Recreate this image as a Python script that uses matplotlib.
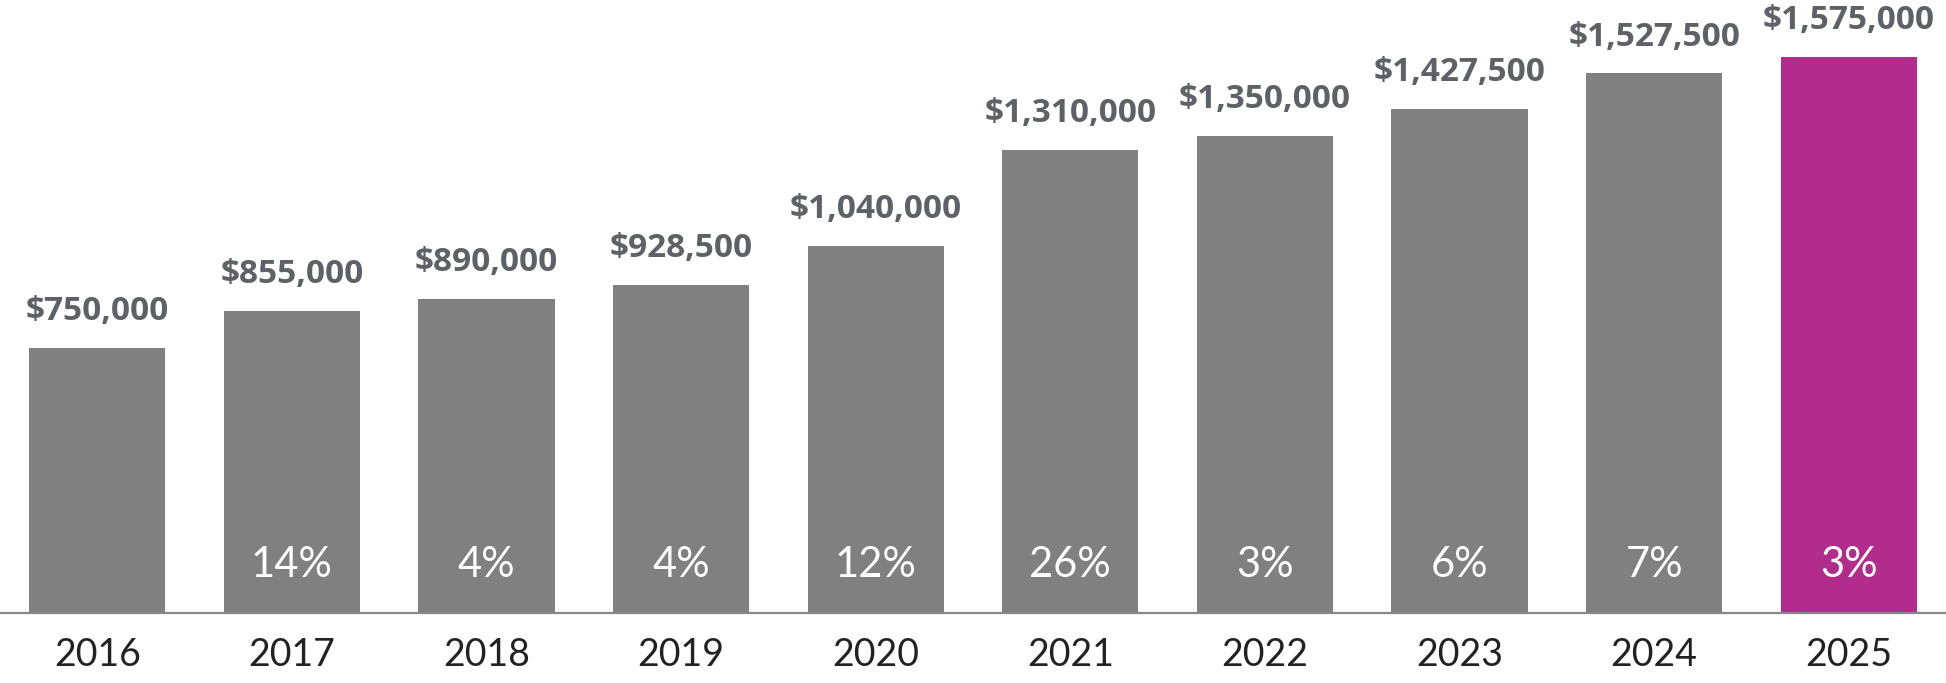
import matplotlib.pyplot as plt

years = ["2016", "2017", "2018", "2019", "2020", "2021", "2022", "2023", "2024", "2025"]
prices = [750000, 855000, 890000, 928500, 1040000, 1310000, 1350000, 1427500, 1527500, 1575000]
changes = ["", "14%", "4%", "4%", "12%", "26%", "3%", "6%", "7%", "3%"]

GREY = "#808080"
PINK = "#b12c8c"
LABEL = "#5e6267"

plt.rcParams["font.family"] = ["Lato", "DejaVu Sans"]

fig = plt.figure(figsize=(19.46, 6.83), dpi=100)
ax = fig.add_axes([0, 0.1025, 1, 0.8975])

colors = [GREY] * (len(years) - 1) + [PINK]
x = list(range(len(years)))
bars = ax.bar(x, prices, width=0.70, color=colors)

# value labels above each bar
for i, v in enumerate(prices):
    ax.annotate(f"${v:,.0f}", (i, v), xytext=(0, 20), textcoords="offset points",
                ha="center", va="baseline", fontsize=24, fontweight="bold",
                family=["Open Sans", "DejaVu Sans"], color=LABEL)

# yearly change inside bars
for i, c in enumerate(changes):
    if c:
        ax.annotate(c, (i, 0), xytext=(0, 26), textcoords="offset points",
                    ha="center", va="baseline", fontsize=30, fontweight="normal", color="white")

ax.set_xlim(-0.5, 9.5)
ax.set_ylim(0, 1.735e6)
ax.set_xticks(x)
ax.set_xticklabels(years, fontsize=27, color="#222222", fontweight="normal")
ax.tick_params(axis="x", length=0, pad=17)
ax.set_yticks([])
for s in ["top", "left", "right"]:
    ax.spines[s].set_visible(False)
ax.spines["bottom"].set_color("#888888")
ax.spines["bottom"].set_linewidth(1.6)

plt.savefig("out.png", dpi=100)
